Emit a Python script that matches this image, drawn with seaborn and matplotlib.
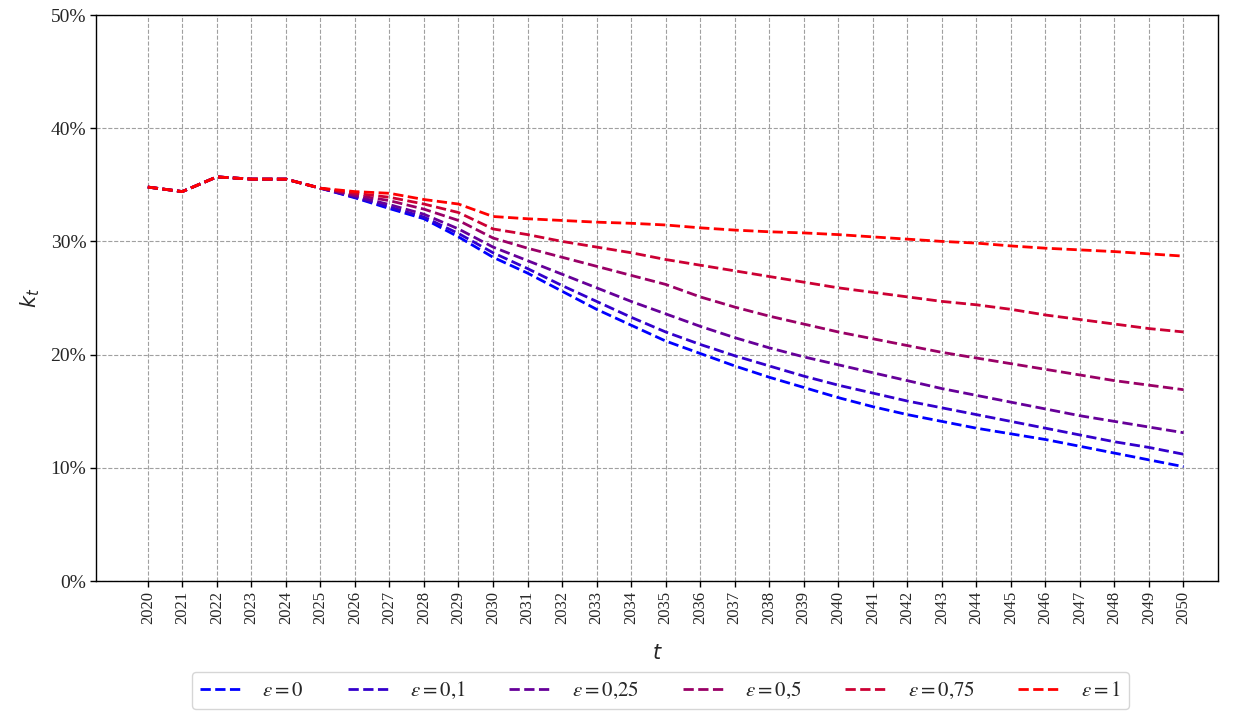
import numpy as np
import pandas as pd
import matplotlib
matplotlib.use("Agg")
import matplotlib.pyplot as plt
import seaborn as sns
from matplotlib.ticker import PercentFormatter
from matplotlib.font_manager import FontProperties

years = list(range(2020, 2051))
eps_values = [0, 0.1, 0.25, 0.5, 0.75, 1]
eps_labels = [r"$\varepsilon = 0$", r"$\varepsilon = 0{,}1$", r"$\varepsilon = 0{,}25$",
              r"$\varepsilon = 0{,}5$", r"$\varepsilon = 0{,}75$", r"$\varepsilon = 1$"]

common = [34.8, 34.4, 35.7, 35.5, 35.5, 34.7]

k_eps_0 = common + [33.85, 32.9, 32.0, 30.4, 28.6, 27.2, 25.6, 24.0, 22.6, 21.2, 20.1, 19.0,
                    18.0, 17.1, 16.2, 15.4, 14.7, 14.1, 13.5, 13.0, 12.5, 11.9, 11.3, 10.7, 10.1]
k_eps_01 = common + [33.9, 33.05, 32.15, 30.7, 29.0, 27.6, 26.1, 24.7, 23.3, 22.0, 20.9, 19.9,
                     19.0, 18.1, 17.3, 16.6, 15.9, 15.3, 14.7, 14.1, 13.5, 12.9, 12.3, 11.8, 11.2]
k_eps_025 = common + [34.0, 33.25, 32.4, 31.1, 29.5, 28.3, 27.1, 25.9, 24.7, 23.6, 22.5, 21.5,
                      20.6, 19.8, 19.1, 18.4, 17.7, 17.0, 16.4, 15.8, 15.2, 14.6, 14.1, 13.6, 13.1]
k_eps_05 = common + [34.1, 33.6, 32.85, 31.85, 30.3, 29.4, 28.6, 27.8, 27.0, 26.2, 25.1, 24.2,
                     23.4, 22.7, 22.0, 21.4, 20.8, 20.2, 19.7, 19.2, 18.7, 18.2, 17.7, 17.3, 16.9]
k_eps_075 = common + [34.25, 33.9, 33.3, 32.55, 31.1, 30.6, 30.0, 29.5, 29.0, 28.4, 27.9, 27.4,
                      26.9, 26.4, 25.9, 25.5, 25.1, 24.7, 24.4, 24.0, 23.5, 23.1, 22.7, 22.3, 22.0]
k_eps_1 = common + [34.4, 34.25, 33.7, 33.3, 32.2, 32.0, 31.85, 31.7, 31.6, 31.45, 31.2, 31.0,
                    30.85, 30.75, 30.6, 30.4, 30.2, 30.0, 29.85, 29.6, 29.4, 29.25, 29.1, 28.9, 28.7]

series = [k_eps_0, k_eps_01, k_eps_025, k_eps_05, k_eps_075, k_eps_1]

sns.set_theme(style="white")
plt.rcParams["font.family"] = ["Liberation Serif", "DejaVu Serif"]
plt.rcParams["mathtext.fontset"] = "dejavusans"

fig = plt.figure(figsize=(12.35, 7.15), dpi=100)
ax = fig.add_axes([96 / 1235, 1 - 581 / 715, (1218 - 96) / 1235, (581 - 15) / 715])

n = len(series)
for i, (lab, vals) in enumerate(zip(eps_labels, series)):
    f = i / (n - 1)
    df = pd.DataFrame({"t": years, "k": vals})
    sns.lineplot(data=df, x="t", y="k", ax=ax, color=(f, 0.0, 1.0 - f),
                 linestyle="--", linewidth=2, label=lab)

ax.set_xlim(2018.5, 2051.0)
ax.set_ylim(0, 50)
ax.set_xticks(years)
ax.set_xticklabels([str(y) for y in years], rotation=90, fontsize=12)
ax.set_yticks([0, 10, 20, 30, 40, 50])
ax.yaxis.set_major_formatter(PercentFormatter(xmax=100, decimals=0))
for lbl in ax.get_yticklabels():
    lbl.set_fontsize(14)
ax.tick_params(axis="both", direction="out", length=4, width=1, color="black",
               left=True, bottom=True, pad=3)
ax.grid(True, color="#a0a0a0", linestyle="--", linewidth=0.8)
for sp in ax.spines.values():
    sp.set_color("black")
    sp.set_linewidth(1.0)

ax.set_xlabel(r"$t$", fontsize=15, labelpad=15)
ax.set_ylabel(r"$k_t$", fontsize=15, labelpad=6)

leg_font = FontProperties(family="Liberation Serif", size=15, math_fontfamily="stix")
ax.legend(loc="upper center", bbox_to_anchor=(0.503, -0.160), ncol=6, prop=leg_font,
          frameon=True, edgecolor="#cccccc", fancybox=True, handlelength=2.0,
          handletextpad=1.0, columnspacing=2.1, borderpad=0.4, borderaxespad=0)

fig.savefig("out.png", dpi=100)
